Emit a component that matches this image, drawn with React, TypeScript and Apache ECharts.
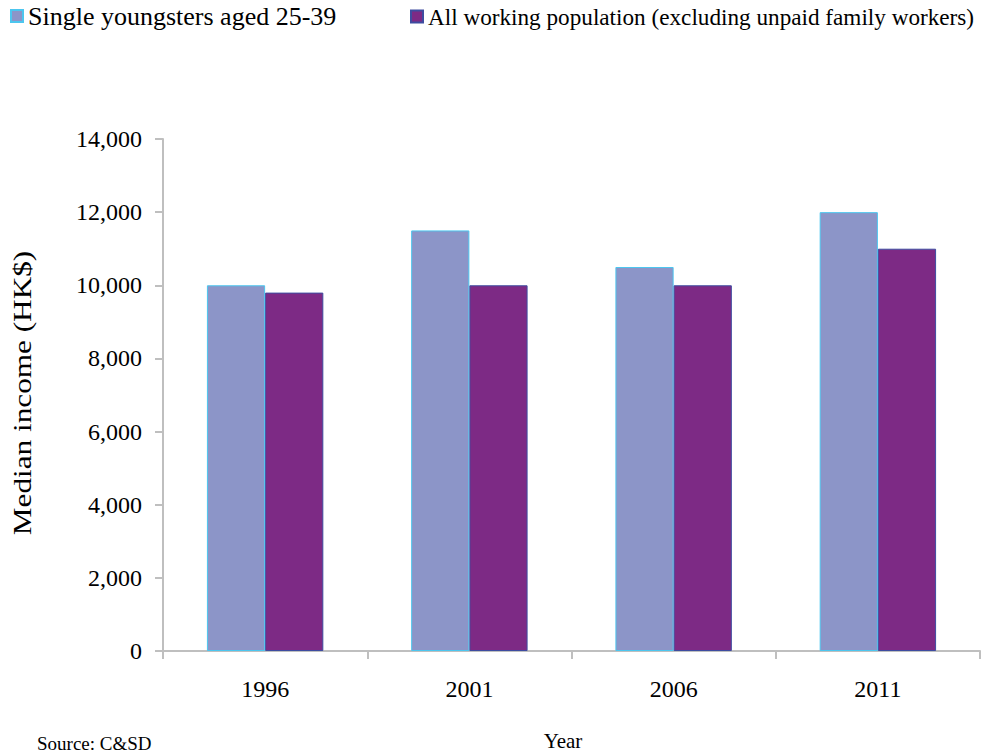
import React, { useEffect, useRef } from "react";
import * as echarts from "echarts";

const years = ["1996", "2001", "2006", "2011"];
const singleYoungsters = [10000, 11500, 10500, 12000];
const allWorking = [9800, 10000, 10000, 11000];
const seriesNames = [
  "Single youngsters aged 25-39",
  "All working population (excluding unpaid family workers)",
];

const FONT = "'Liberation Serif', 'Times New Roman', serif";

export default function App() {
  const ref = useRef<HTMLDivElement>(null);
  useEffect(() => {
    if (!ref.current) return;
    const chart = echarts.init(ref.current, null, { renderer: "svg" });
    chart.setOption({
      animation: false,
      backgroundColor: "#ffffff",
      textStyle: { fontFamily: FONT, color: "#000" },
      legend: [
        {
          left: 10,
          top: 3,
          padding: 0,
          itemWidth: 12,
          itemHeight: 12,
          itemGap: 0,
          icon: "rect",
          textStyle: { fontFamily: FONT, fontSize: 26, color: "#000" },
          data: [seriesNames[0]],
        },
        {
          left: 410,
          top: 5,
          padding: 0,
          itemWidth: 12,
          itemHeight: 12,
          itemGap: 0,
          icon: "rect",
          textStyle: { fontFamily: FONT, fontSize: 23.2, color: "#000" },
          data: [seriesNames[1]],
        },
      ],
      grid: {
        left: 163,
        right: 1,
        top: 139,
        bottom: 102,
        containLabel: false,
        outerBoundsMode: "none",
      },
      xAxis: {
        type: "category",
        data: years,
        axisLine: { lineStyle: { color: "#bfbfbf", width: 2 } },
        axisTick: { show: true, length: 8, lineStyle: { color: "#bfbfbf", width: 2 } },
        axisLabel: { margin: 26, fontFamily: FONT, fontSize: 24, color: "#000" },
      },
      yAxis: {
        type: "value",
        min: 0,
        max: 14000,
        interval: 2000,
        axisLine: { show: true, lineStyle: { color: "#bfbfbf", width: 2 } },
        axisTick: { show: true, length: 8, lineStyle: { color: "#bfbfbf", width: 2 } },
        splitLine: { show: false },
        axisLabel: {
          margin: 21,
          fontFamily: FONT,
          fontSize: 24,
          color: "#000",
          formatter: (v: number) => v.toLocaleString("en-US"),
        },
      },
      series: [
        {
          name: seriesNames[0],
          type: "bar",
          data: singleYoungsters,
          barGap: "0%",
          barCategoryGap: "43%",
          itemStyle: { color: "#8c95c8", borderColor: "#4cc6ef", borderWidth: 1 },
        },
        {
          name: seriesNames[1],
          type: "bar",
          data: allWorking,
          itemStyle: { color: "#7d2a85", borderColor: "#3e4ca0", borderWidth: 1 },
        },
      ],
      graphic: [
        {
          type: "text",
          x: 23,
          y: 393,
          rotation: Math.PI / 2,
          scaleX: 1.25,
          style: {
            text: "Median income (HK$)",
            font: `25px ${FONT}`,
            fill: "#000",
            textAlign: "center",
            textVerticalAlign: "middle",
          },
        },
        {
          type: "text",
          x: 563,
          y: 741,
          style: {
            text: "Year",
            font: `21px ${FONT}`,
            fill: "#000",
            textAlign: "center",
            textVerticalAlign: "middle",
          },
        },
        {
          type: "text",
          x: 37,
          y: 734,
          style: {
            text: "Source: C&SD",
            font: `19px ${FONT}`,
            fill: "#000",
            textAlign: "left",
            textVerticalAlign: "top",
          },
        },
      ],
    });
    return () => chart.dispose();
  }, []);
  return (
    <div
      ref={ref}
      style={{ position: "fixed", left: 0, top: 0, width: 981, height: 753 }}
    />
  );
}
